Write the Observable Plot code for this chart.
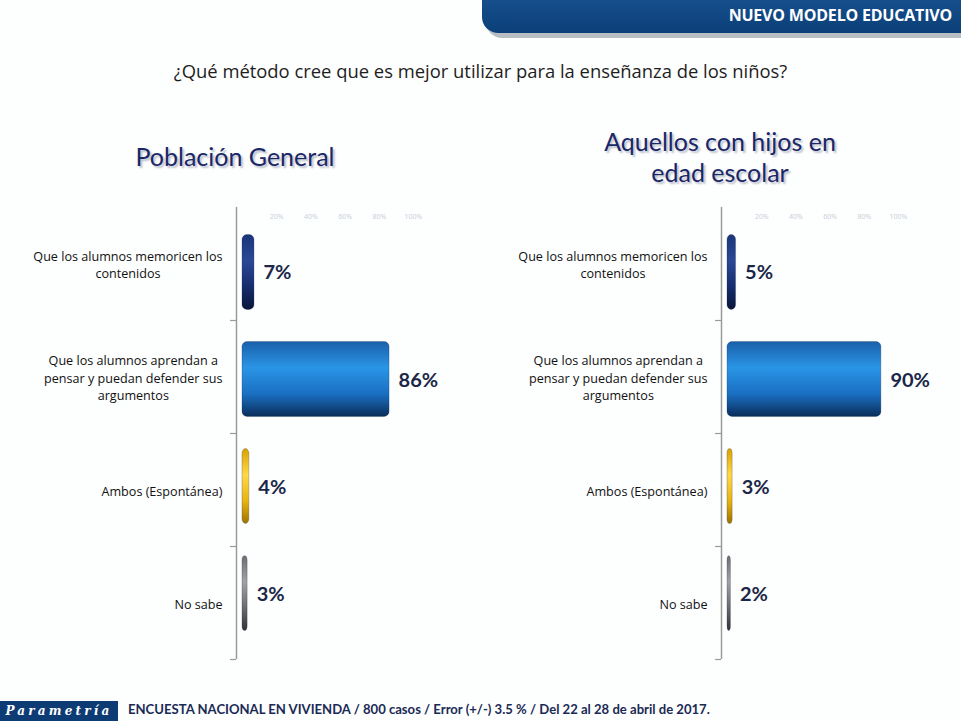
<!DOCTYPE html>
<html>
<head>
<meta charset="utf-8">
<script src="https://cdn.jsdelivr.net/npm/d3@7"></script>
<script src="https://cdn.jsdelivr.net/npm/@observablehq/plot@0.6"></script>
<style>
  html, body { margin: 0; padding: 0; background: #fff; }
  #page { position: relative; width: 961px; height: 721px; overflow: hidden; background: #fdfefe; font-family: "Open Sans", sans-serif; }
  .abs { position: absolute; }
  #banner { left: 482px; top: 0; width: 479px; height: 33px; background: linear-gradient(#154f8c, #0b3f78); border-bottom-left-radius: 16px; box-shadow: 4px 5px 0 #b9bec4; }
  #banner span { position: absolute; right: 9px; top: 4px; color: #fff; font: bold 16px "Open Sans", sans-serif; letter-spacing: -0.2px; }
  #question { left: 0; width: 961px; top: 58px; text-align: center; font-size: 18.4px; color: #1d1d1d; }
  .sub { text-align: center; font-family: Lato, sans-serif; font-size: 25px; color: #1a2767; text-shadow: 2px 2px 2px #b8bcc8; line-height: 31px; }
  #footlogo { left: 0; top: 701px; width: 118px; height: 20px; background: #0d3b73; color: #fff; font: italic bold 12px "DejaVu Serif", serif; letter-spacing: 3.2px; text-align: center; line-height: 20px; }
  #foottext { left: 128px; top: 701px; font: bold 13.1px Lato, sans-serif; color: #1a2a55; }
</style>
</head>
<body>
<div id="page">
  <div id="banner" class="abs"><span>NUEVO MODELO EDUCATIVO</span></div>
  <div id="question" class="abs">¿Qué método cree que es mejor utilizar para la enseñanza de los niños?</div>
  <div class="abs sub" style="left:85px;width:300px;top:141px;">Población General</div>
  <div class="abs sub" style="left:570px;width:300px;top:126px;">Aquellos con hijos en<br>edad escolar</div>
  <div id="chartL" class="abs" style="left:0;top:195px;"></div>
  <div id="chartR" class="abs" style="left:485px;top:195px;"></div>
  <div id="footlogo" class="abs">Parametría</div>
  <div id="foottext" class="abs">ENCUESTA NACIONAL EN VIVIENDA / 800 casos / Error (+/-) 3.5 % / Del 22 al 28 de abril de 2017.</div>
</div>
<script>
// ---- data ----
const categories = [
  "Que los alumnos memoricen los\ncontenidos",
  "Que los alumnos aprendan a\npensar y puedan defender sus\nargumentos",
  "Ambos (Espontánea)",
  "No sabe"
];
const generalValues = [7, 86, 4, 3];
const parentsValues = [5, 90, 3, 2];
const xTicks = [20, 40, 60, 80, 100];
const barGradients = ["navy", "blue", "gold", "gray"];

const gradientStops = {
  navy: [["0", "#1b357a"], ["0.35", "#2a4896"], ["0.7", "#162c6c"], ["1", "#09153a"]],
  blue: [["0", "#1a60aa"], ["0.35", "#2a95e6"], ["0.7", "#1a6fc2"], ["1", "#0a2e5a"]],
  gold: [["0", "#d9a200"], ["0.35", "#ffd947"], ["0.7", "#e8b410"], ["1", "#9f7300"]],
  gray: [["0", "#6e6e6e"], ["0.35", "#a2a2a2"], ["0.7", "#6a6a6a"], ["1", "#333333"]]
};

function defsMark(prefix) {
  return () => {
    const ns = "http://www.w3.org/2000/svg";
    const defs = document.createElementNS(ns, "defs");
    for (const [name, stops] of Object.entries(gradientStops)) {
      const g = document.createElementNS(ns, "linearGradient");
      g.setAttribute("id", prefix + name);
      g.setAttribute("x1", "0"); g.setAttribute("y1", "0");
      g.setAttribute("x2", "0"); g.setAttribute("y2", "1");
      for (const [off, col] of stops) {
        const s = document.createElementNS(ns, "stop");
        s.setAttribute("offset", off);
        s.setAttribute("stop-color", col);
        g.appendChild(s);
      }
      defs.appendChild(g);
    }
    return defs;
  };
}

// perspective: the bars sit on a plane slightly in front of the label wall
function perspective(index, scales, values, dimensions, context, next) {
  const inner = next(index, scales, values, dimensions, context);
  const ns = "http://www.w3.org/2000/svg";
  const g = document.createElementNS(ns, "g");
  const c = 229, k = 0.947;
  g.setAttribute("transform", `translate(0,${c}) scale(1,${k}) translate(0,${-c})`);
  g.appendChild(inner);
  return g;
}

function makeChart(values, prefix) {
  const data = categories.map((c, i) => ({cat: c, value: values[i], grad: "url(#" + prefix + barGradients[i] + ")"}));
  return Plot.plot({
    width: 475,
    height: 474,
    marginLeft: 242,
    marginRight: 62,
    marginTop: 12,
    marginBottom: 10,
    style: {background: "transparent", overflow: "visible"},
    x: {domain: [0, 100], axis: null},
    y: {domain: categories, paddingInner: 0.30, paddingOuter: 0.15, axis: null},
    color: {type: "identity"},
    marks: [
      defsMark(prefix),
      Plot.axisX({ticks: xTicks, anchor: "top", tickSize: 0, tickPadding: -11, tickFormat: d => d + "%", fontSize: 7, color: "#c9d1dc", label: null}),
      Plot.ruleX([0], {dx: -6, stroke: "#9a9a9a", strokeWidth: 1.5}),
      Plot.ruleY(categories, {y: d => d, x1: -7, x2: -3.5, dy: 56.5, stroke: "#9a9a9a", strokeWidth: 1.2}),
      Plot.axisY({anchor: "left", tickSize: 0, tickPadding: 20, fontSize: 12.6, lineHeight: 1.38, color: "#111", label: null, fontFamily: "Open Sans"}),
      Plot.barX(data, {x: "value", y: "cat", fill: "grad", rx: 5, stroke: "#0b2448", strokeOpacity: 0.25, render: perspective}),
      Plot.text(data, {x: "value", y: "cat", text: d => d.value + "%", textAnchor: "start", dx: 9, dy: 1, fontSize: 20, fontWeight: "bold", fill: "#1b2748", fontFamily: "Lato", render: perspective})
    ]
  });
}

function centerTickLabels(svg) {
  svg.querySelectorAll('[aria-label="y-axis tick label"] text').forEach(t => {
    const w = t.getBBox().width;
    t.setAttribute("text-anchor", "middle");
    const tr = t.getAttribute("transform") || "";
    t.setAttribute("transform", tr + " translate(" + (-w / 2) + ",0)");
  });
}

const L = makeChart(generalValues, "gL");
document.getElementById("chartL").appendChild(L);
centerTickLabels(L);
const R = makeChart(parentsValues, "gR");
document.getElementById("chartR").appendChild(R);
centerTickLabels(R);
</script>
</body>
</html>
